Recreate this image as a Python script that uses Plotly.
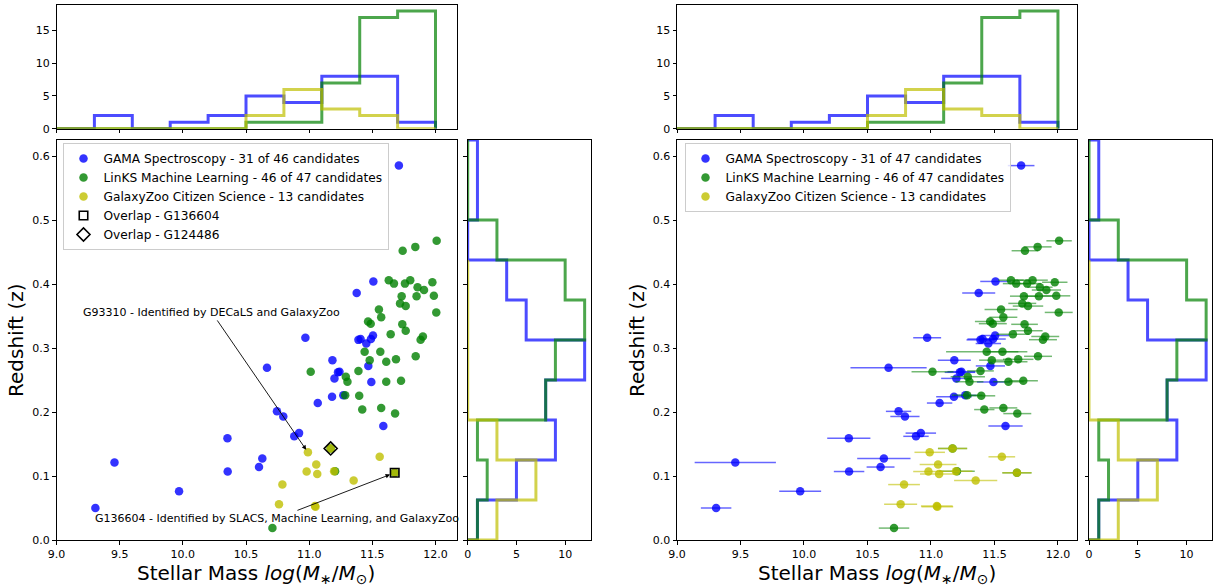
import plotly.graph_objects as go

W, H = 1217, 587

# ---------------- data ----------------
gama_mass = [11.71, 11.508, 11.376, 10.97, 11.39, 11.407, 11.452, 11.489, 11.505, 11.184,
             10.666, 11.468, 11.24, 11.228, 11.20, 11.492, 11.27, 11.181, 11.068, 11.587,
             10.745, 10.795, 10.92, 10.882, 10.353, 9.459, 10.629, 10.603, 10.355, 9.97, 9.308]
gama_z = [0.585, 0.404, 0.386, 0.316, 0.3127, 0.314, 0.307, 0.314, 0.3195, 0.281,
          0.269, 0.272, 0.263, 0.262, 0.2525, 0.2467, 0.226, 0.224, 0.214, 0.178,
          0.201, 0.193, 0.167, 0.162, 0.159, 0.121, 0.1275, 0.114, 0.107, 0.076, 0.05]
gama_err = [0.105, 0.12, 0.13, 0.11, 0.11, 0.12, 0.10, 0.10, 0.11, 0.13,
            0.30, 0.115, 0.11, 0.12, 0.12, 0.13, 0.09, 0.14, 0.10, 0.135,
            0.10, 0.115, 0.12, 0.10, 0.17, 0.32, 0.21, 0.11, 0.12, 0.165, 0.12]

links_mass = [12.009, 11.74, 11.84, 11.63, 11.671, 11.758, 11.80, 11.858, 11.909, 11.975,
              11.732, 11.85, 11.987, 11.719, 11.764, 11.552, 12.006, 11.57, 11.466, 11.487,
              11.737, 11.764, 11.645, 11.90, 11.882, 11.439, 11.563, 11.843, 11.479, 11.61,
              11.687, 11.012, 11.39, 11.29, 11.303, 11.61, 11.727, 11.285, 11.396, 11.42,
              11.57, 11.68, 11.205, 10.709, 11.17, 11.677]
links_z = [0.4675, 0.452, 0.458, 0.406, 0.4006, 0.4006, 0.406, 0.395, 0.3906, 0.4027,
           0.381, 0.381, 0.3815, 0.3697, 0.3655, 0.36, 0.3556, 0.348, 0.3414, 0.338,
           0.337, 0.327, 0.3215, 0.318, 0.313, 0.2943, 0.2943, 0.287, 0.281, 0.2786,
           0.2823, 0.263, 0.2642, 0.255, 0.2473, 0.2473, 0.2488, 0.2263, 0.2253, 0.2038,
           0.2064, 0.1975, 0.1075, 0.0186, 0.143, 0.105]
links_err = [0.10, 0.105, 0.11, 0.10, 0.105, 0.11, 0.12, 0.10, 0.115, 0.10,
             0.11, 0.11, 0.11, 0.11, 0.12, 0.13, 0.11, 0.11, 0.12, 0.11,
             0.105, 0.115, 0.13, 0.11, 0.11, 0.32, 0.125, 0.11, 0.10, 0.15,
             0.12, 0.165, 0.105, 0.135, 0.11, 0.12, 0.115, 0.12, 0.11, 0.08,
             0.11, 0.11, 0.14, 0.12, 0.115, 0.115]

gz_mass = [10.99, 11.558, 11.056, 10.98, 11.064, 11.197, 10.788, 11.352, 10.761, 11.046,
           11.05, 11.17, 11.677]
gz_z = [0.137, 0.13, 0.118, 0.107, 0.1033, 0.1075, 0.0866, 0.093, 0.0557, 0.0531,
        0.052, 0.143, 0.105]
gz_err = [0.12, 0.105, 0.145, 0.12, 0.15, 0.13, 0.125, 0.17, 0.13, 0.125,
          0.125, 0.115, 0.115]

ov1_mass, ov1_z = [11.677], [0.105]   # G136604
ov2_mass, ov2_z = [11.17], [0.143]    # G124486

mass_edges = [9.0, 9.3, 9.6, 9.9, 10.2, 10.5, 10.8, 11.1, 11.4, 11.7, 12.0]
gama_mass_counts = [0, 2, 0, 1, 2, 5, 4, 8, 8, 1]
links_mass_counts = [0, 0, 0, 0, 0, 1, 1, 7, 17, 18]
gz_mass_counts = [0, 0, 0, 0, 0, 2, 6, 3, 2, 0]

z_edges = [0.0, 0.0625, 0.125, 0.1875, 0.25, 0.3125, 0.375, 0.4375, 0.5, 0.5625, 0.625]
gama_z_counts = [1, 5, 9, 8, 12, 6, 4, 0, 1, 1]
links_z_counts = [1, 2, 1, 8, 9, 12, 10, 3, 0, 0]
gz_z_edges = [0.0, 0.0625, 0.125, 0.1875, 0.25, 0.3125, 0.375, 0.4375]
gz_z_counts = [3, 7, 3, 0, 0, 0, 0]

mass_ticks = [9.0, 9.5, 10.0, 10.5, 11.0, 11.5, 12.0]
z_ticks = [0.0, 0.1, 0.2, 0.3, 0.4, 0.5, 0.6]

labels_left = ["GAMA Spectroscopy - 31 of 46 candidates",
               "LinKS Machine Learning - 46 of 47 candidates",
               "GalaxyZoo Citizen Science - 13 candidates",
               "Overlap - G136604", "Overlap - G124486"]
labels_right = ["GAMA Spectroscopy - 31 of 47 candidates",
                "LinKS Machine Learning - 46 of 47 candidates",
                "GalaxyZoo Citizen Science - 13 candidates"]

# ---------------- style ----------------
C_BLUE = "rgba(0,0,255,0.8)"
C_GREEN = "rgba(0,128,0,0.8)"
C_YEL = "rgba(191,191,0,0.8)"
H_BLUE = "rgba(0,0,255,0.7)"
H_GREEN = "rgba(0,128,0,0.7)"
H_YEL = "rgba(191,191,0,0.7)"
E_BLUE = "rgba(0,0,255,0.6)"
E_GREEN = "rgba(0,128,0,0.55)"
E_YEL = "rgba(191,191,0,0.6)"
FONT = "DejaVu Sans"
MS = 8.5


def dxd(a, b):
    return [a / W, b / W]


def dyd(top, bottom):
    return [1 - bottom / H, 1 - top / H]


def hstep(edges, counts):
    x = [edges[0]] + list(edges[:-1]) + [edges[-1]]
    y = [0] + list(counts) + [0]
    return x, y


def vstep(edges, counts):
    y = [edges[0]] + list(edges[:-1]) + [edges[-1]]
    x = [0] + list(counts) + [0]
    return x, y


fig = go.Figure()

for side in (0, 1):
    xa_main = "x" if side == 0 else "x4"
    ya_main = "y" if side == 0 else "y4"
    xa_top = "x2" if side == 0 else "x5"
    ya_top = "y2" if side == 0 else "y5"
    xa_r = "x3" if side == 0 else "x6"
    ya_r = "y3" if side == 0 else "y6"

    # top histograms
    for edges, counts, col in [(mass_edges, gama_mass_counts, H_BLUE),
                               (mass_edges, links_mass_counts, H_GREEN),
                               (mass_edges, gz_mass_counts, H_YEL)]:
        hx, hy = hstep(edges, counts)
        fig.add_trace(go.Scatter(x=hx, y=hy, mode="lines", line=dict(color=col, width=3, shape="hv"),
                                 xaxis=xa_top, yaxis=ya_top, showlegend=False, hoverinfo="skip"))
    # right histograms
    for edges, counts, col in [(z_edges, gama_z_counts, H_BLUE),
                               (z_edges, links_z_counts, H_GREEN),
                               (gz_z_edges, gz_z_counts, H_YEL)]:
        vx, vy = vstep(edges, counts)
        fig.add_trace(go.Scatter(x=vx, y=vy, mode="lines", line=dict(color=col, width=3, shape="vh"),
                                 xaxis=xa_r, yaxis=ya_r, showlegend=False, hoverinfo="skip"))

    labels = labels_left if side == 0 else labels_right
    leg = "legend" if side == 0 else "legend2"
    series = [(gama_mass, gama_z, gama_err, C_BLUE, E_BLUE),
              (links_mass, links_z, links_err, C_GREEN, E_GREEN),
              (gz_mass, gz_z, gz_err, C_YEL, E_YEL)]
    for i, (mx, mz, me, col, ecol) in enumerate(series):
        kw = {}
        if side == 1:
            kw["error_x"] = dict(type="data", array=me, color=ecol, thickness=1.5, width=0)
        fig.add_trace(go.Scatter(x=mx, y=mz, mode="markers", name=labels[i], legend=leg,
                                 marker=dict(size=MS, color=col, line=dict(width=0)),
                                 xaxis=xa_main, yaxis=ya_main, **kw))
    if side == 0:
        fig.add_trace(go.Scatter(x=ov1_mass, y=ov1_z, mode="markers", name=labels_left[3], legend="legend",
                                 marker=dict(symbol="square", size=8.5, color="rgba(0,0,0,0)",
                                             line=dict(color="black", width=1.6)),
                                 xaxis="x", yaxis="y"))
        fig.add_trace(go.Scatter(x=ov2_mass, y=ov2_z, mode="markers", name=labels_left[4], legend="legend",
                                 marker=dict(symbol="diamond", size=10, color="rgba(0,0,0,0)",
                                             line=dict(color="black", width=1.6)),
                                 xaxis="x", yaxis="y"))

axis_common = dict(showline=True, linecolor="black", linewidth=1, mirror=True, ticks="outside",
                   ticklen=3.5, tickwidth=0.8, tickcolor="black", showgrid=False, zeroline=False,
                   automargin=False,
                   tickfont=dict(family=FONT, size=11, color="black"), fixedrange=True)

layout_axes = {}
for side in (0, 1):
    n_main, n_top, n_r = (1, 2, 3) if side == 0 else (4, 5, 6)
    xm = (56.5, 457) if side == 0 else (677, 1077)
    xr = (467.7, 590.5) if side == 0 else (1089, 1212)
    mrange = [9.0, 12.17] if side == 0 else [9.0, 12.15]
    sfx = lambda n: "" if n == 1 else str(n)
    layout_axes["xaxis" + sfx(n_main)] = dict(axis_common, domain=dxd(*xm), range=mrange,
                                              tickvals=mass_ticks, tickformat=".1f", anchor="y" + sfx(n_main))
    layout_axes["yaxis" + sfx(n_main)] = dict(axis_common, domain=dyd(140, 540), range=[0, 0.625],
                                              tickvals=z_ticks, tickformat=".1f", anchor="x" + sfx(n_main))
    layout_axes["xaxis" + sfx(n_top)] = dict(axis_common, domain=dxd(*xm), range=mrange,
                                             tickvals=mass_ticks, showticklabels=False, anchor="y" + sfx(n_top))
    layout_axes["yaxis" + sfx(n_top)] = dict(axis_common, domain=dyd(5, 128.7), range=[0, 18.9],
                                             tickvals=[0, 5, 10, 15], anchor="x" + sfx(n_top))
    layout_axes["xaxis" + sfx(n_r)] = dict(axis_common, domain=dxd(*xr), range=[0, 12.6],
                                           tickvals=[0, 5, 10], anchor="y" + sfx(n_r))
    layout_axes["yaxis" + sfx(n_r)] = dict(axis_common, domain=dyd(140, 540), range=[0, 0.625],
                                           tickvals=z_ticks, showticklabels=False, anchor="x" + sfx(n_r))

xlabel = "Stellar Mass <i>log</i>(<i>M</i><sub>∗</sub>/<i>M</i><sub>⊙</sub>)"
annotations = []
for cx in (256, 877):
    annotations.append(dict(text=xlabel, x=cx / W, y=1 - 574 / H, xref="paper", yref="paper",
                            showarrow=False, font=dict(family=FONT, size=20, color="black"),
                            xanchor="center", yanchor="middle"))
for cx in (16, 637):
    annotations.append(dict(text="Redshift (z)", x=cx / W, y=1 - 340 / H, xref="paper", yref="paper",
                            showarrow=False, textangle=-90, font=dict(family=FONT, size=20, color="black"),
                            xanchor="center", yanchor="middle"))
annotations.append(dict(text="G93310 - Identified by DECaLS and GalaxyZoo", x=10.99, y=0.137,
                        ax=10.229, ay=0.3556, xref="x", yref="y", axref="x", ayref="y",
                        showarrow=True, arrowhead=2, arrowsize=1, arrowwidth=0.9, arrowcolor="black",
                        standoff=3, font=dict(family=FONT, size=11, color="black")))
annotations.append(dict(text="G136604 - Identified by SLACS, Machine Learning, and GalaxyZoo", x=11.677, y=0.105,
                        ax=10.743, ay=0.0338, xref="x", yref="y", axref="x", ayref="y",
                        showarrow=True, arrowhead=2, arrowsize=1, arrowwidth=0.9, arrowcolor="black",
                        standoff=5, font=dict(family=FONT, size=11, color="black")))

legend_common = dict(bgcolor="rgba(255,255,255,0.8)", bordercolor="#cccccc", borderwidth=1,
                     font=dict(family=FONT, size=12.2, color="black"), xanchor="left", yanchor="top",
                     tracegroupgap=0)

fig.update_layout(
    width=W, height=H, margin=dict(l=0, r=0, t=0, b=0, pad=0, autoexpand=False),
    paper_bgcolor="white", plot_bgcolor="white",
    font=dict(family=FONT, color="black"),
    legend=dict(legend_common, x=62.5 / W, y=1 - 143 / H),
    legend2=dict(legend_common, x=684.5 / W, y=1 - 143 / H),
    annotations=annotations,
    **layout_axes,
)

fig.write_html("out.html")
